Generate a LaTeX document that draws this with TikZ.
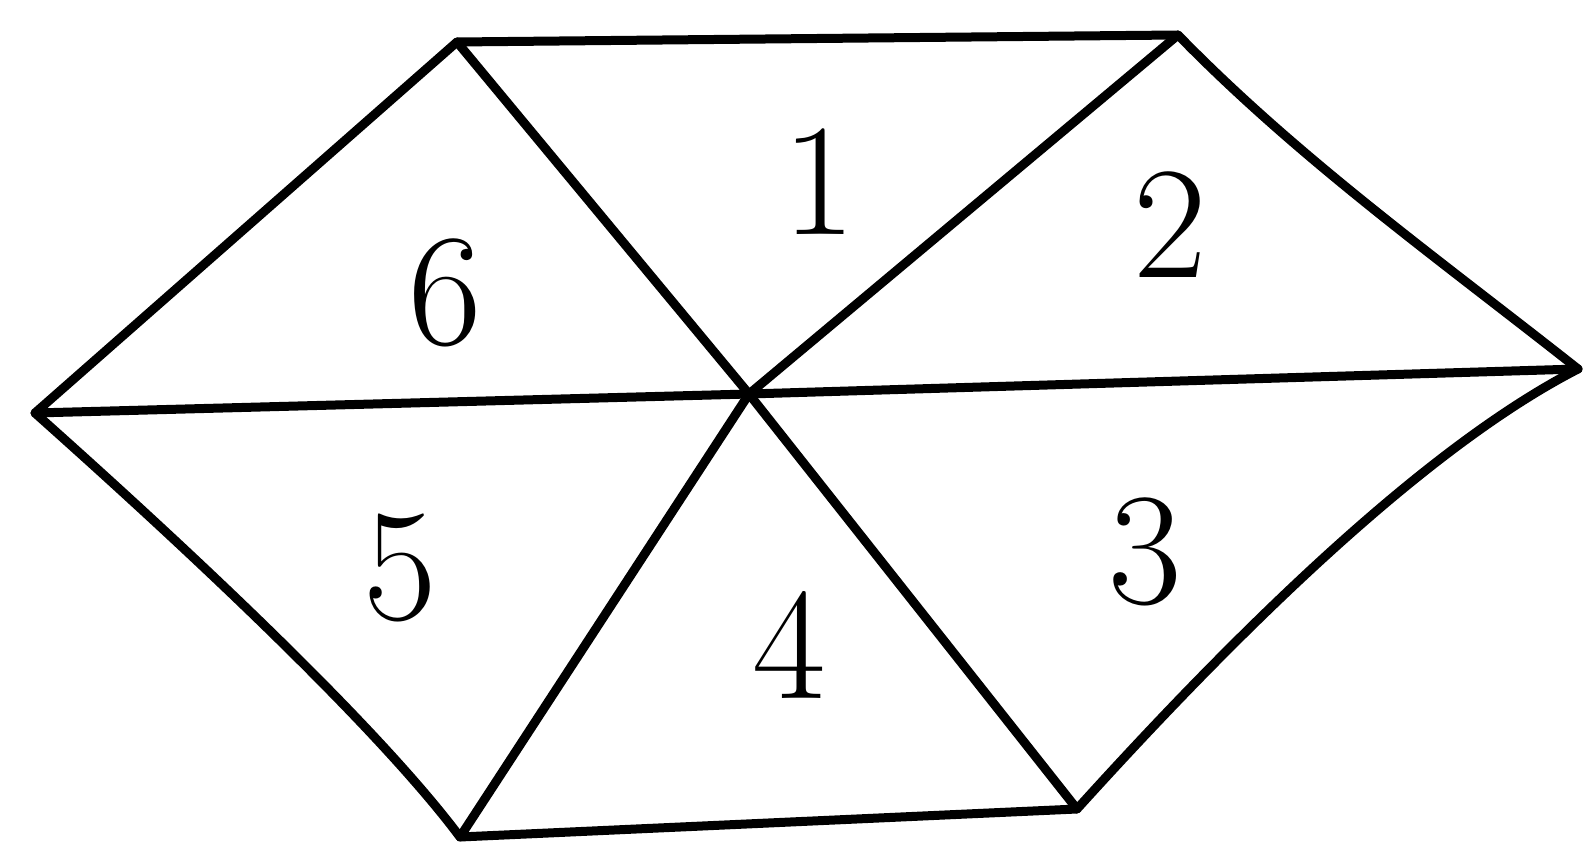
\documentclass[tikz,border=0pt]{standalone}
\begin{document}
\begin{tikzpicture}[x=0.5pt,y=-0.5pt,
  edge/.style={line width=4.5pt,line cap=round,line join=round,black},
  num/.style={font=\fontsize{80}{80}\selectfont,inner sep=0pt}]
\useasboundingbox[fill=white] (0,0) rectangle (1586,844);
\coordinate (TL) at (457,42);
\coordinate (TR) at (1178,35);
\coordinate (R) at (1578,369);
\coordinate (BR) at (1077,809);
\coordinate (BL) at (460,837);
\coordinate (L) at (35,413);
\coordinate (C) at (749,394);
\draw[edge] (L) -- (TL) -- (TR) .. controls (1300,160) and (1440,260) .. (R)
  .. controls (1420,450) and (1230,640) .. (BR) -- (BL)
  .. controls (380,730) and (200,560) .. (L) -- cycle;
\draw[edge] (TL) -- (C) -- (BR);
\draw[edge] (TR) -- (C) -- (BL);
\draw[edge] (L) -- (C) -- (R);
\node[num] (n1) at (819,182) {1};
\node[num] (n2) at (1170,225) {2};
\node[num] (n3) at (1145,552) {3};
\node[num] (n4) at (789,645) {4};
\node[num] (n5) at (400,568) {5};
\node[num] (n6) at (445,293) {6};
\end{tikzpicture}
\end{document}
